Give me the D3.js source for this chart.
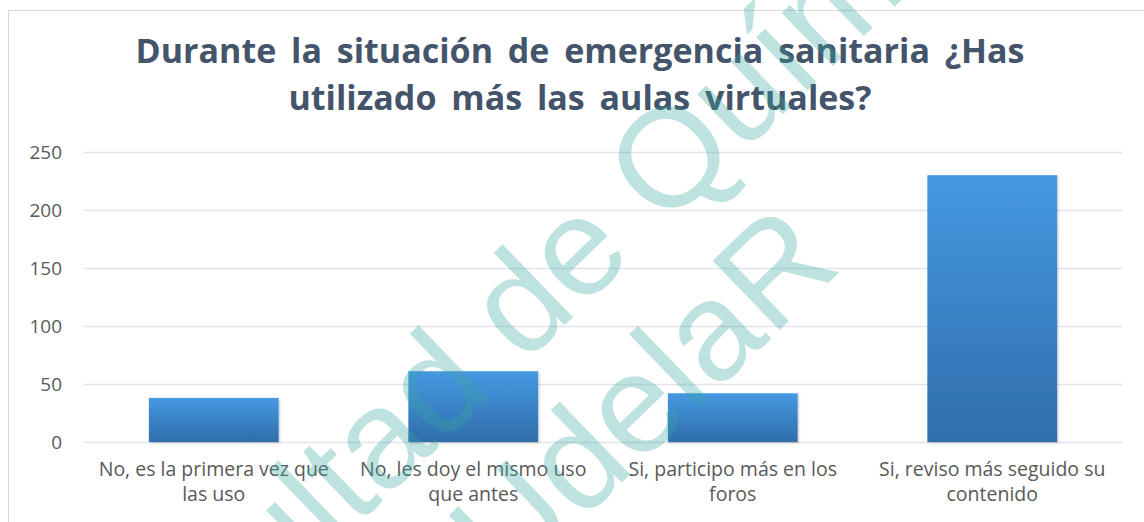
<!DOCTYPE html>
<html><head><meta charset="utf-8">
<script src="https://cdn.jsdelivr.net/npm/d3@7"></script>
<style>html,body{margin:0;padding:0;background:#fff;overflow:hidden}</style>
</head><body>
<svg id="c" width="1144" height="522"></svg>
<script>
const categories = [
  ["No, es la primera vez que", "las uso"],
  ["No, les doy el mismo uso", "que antes"],
  ["Si, participo más en los", "foros"],
  ["Si, reviso más seguido su", "contenido"]
];
const values = [38, 61, 42, 230];
const yTicks = [0, 50, 100, 150, 200, 250];
const titleLines = ["Durante la situación de emergencia sanitaria ¿Has", "utilizado más las aulas virtuales?"];
const watermarkLines = ["Facultad de Química", "UdelaR"];

const svg = d3.select("#c");
const W = 1144, H = 522;
const font = "'Open Sans', sans-serif";

const defs = svg.append("defs");
const grad = defs.append("linearGradient").attr("id","bg").attr("x1",0).attr("y1",0).attr("x2",0).attr("y2",1);
grad.append("stop").attr("offset","0%").attr("stop-color","#4698E2");
grad.append("stop").attr("offset","100%").attr("stop-color","#2F6EAB");
const flt = defs.append("filter").attr("id","sh").attr("x","-10%").attr("y","-10%").attr("width","120%").attr("height","120%");
flt.append("feDropShadow").attr("dx",1).attr("dy",1).attr("stdDeviation",1.2).attr("flood-color","#000").attr("flood-opacity",0.25);

// chart frame
svg.append("rect").attr("x",8.5).attr("y",10.5).attr("width",W).attr("height",H).attr("fill","#fff").attr("stroke","#D9D9D9");

const x = d3.scaleBand().domain(d3.range(categories.length)).range([84, 1122]).paddingInner(0.5).paddingOuter(0.25);
const y = d3.scaleLinear().domain([0, 250]).range([442, 152]);

// gridlines
svg.append("g").selectAll("line").data(yTicks).join("line")
  .attr("x1",84).attr("x2",1122)
  .attr("y1",d=>y(d)+0.5).attr("y2",d=>y(d)+0.5)
  .attr("stroke","#E1E4EA").attr("stroke-width",1.5);

// y axis labels
const yAxis = d3.axisLeft(y).tickValues(yTicks).tickSize(0).tickPadding(0);
const ga = svg.append("g").attr("transform","translate(62,0)").call(yAxis);
ga.select(".domain").remove();
ga.selectAll("text").attr("font-family",font).attr("font-size",19).attr("fill","#595959").attr("dy","0.35em");

// bars
svg.append("g").selectAll("rect").data(values).join("rect")
  .attr("x",(d,i)=>x(i)).attr("width",x.bandwidth())
  .attr("y",d=>y(d)).attr("height",d=>y(0)-y(d))
  .attr("fill","url(#bg)").attr("filter","url(#sh)");

// category labels
const cl = svg.append("g").selectAll("text").data(categories).join("text")
  .attr("x",(d,i)=>x(i)+x.bandwidth()/2)
  .attr("text-anchor","middle").attr("font-family",font).attr("font-size",19.5).attr("fill","#595959");
cl.each(function(d){
  const t = d3.select(this);
  d.forEach((line,j)=>t.append("tspan").attr("x",t.attr("x")).attr("y",476+j*25).text(line));
});

// title
svg.append("g").selectAll("text").data(titleLines).join("text")
  .attr("x",580).attr("y",(d,i)=>63+i*47)
  .attr("text-anchor","middle").attr("font-family",font).attr("font-weight","bold")
  .attr("font-size",34).attr("word-spacing",6)
  .attr("fill","#44546A").text(d=>d);

// watermark
const wmPos = [[574, 316], [676, 430]];
svg.append("g").selectAll("text").data(watermarkLines).join("text")
  .attr("transform",(d,i)=>`translate(${wmPos[i][0]},${wmPos[i][1]}) rotate(-44)`)
  .attr("font-family","'Liberation Sans', Arial, sans-serif").attr("font-size",140)
  .attr("fill","#3AA8A2").attr("fill-opacity",0.33).attr("text-anchor","middle")
  .text(d=>d);
</script>
</body></html>
